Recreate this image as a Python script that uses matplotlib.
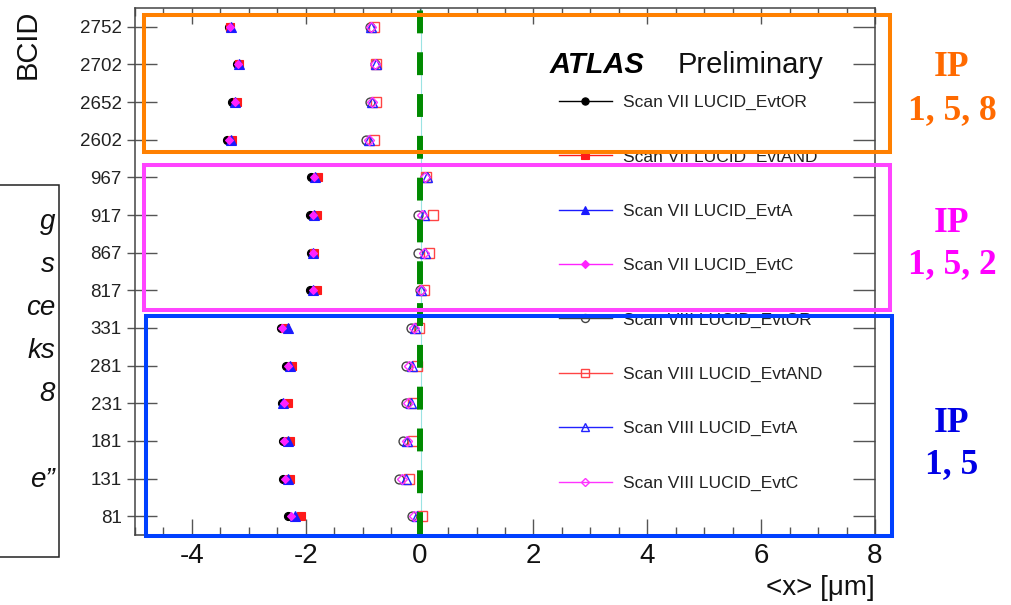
import matplotlib
matplotlib.use("Agg")
import matplotlib.pyplot as plt
from matplotlib.lines import Line2D
from matplotlib.patches import Rectangle
from matplotlib.ticker import MultipleLocator, FixedLocator
import numpy as np

plt.rcParams['font.family'] = ['Liberation Sans', 'DejaVu Sans']
plt.rcParams['axes.unicode_minus'] = False

# Bunch crossing IDs, bottom to top
bcid = ['81', '131', '181', '231', '281', '331',
        '817', '867', '917', '967',
        '2602', '2652', '2702', '2752']

# Mean x position [um], Scan VII
vii_or  = [-2.31, -2.40, -2.40, -2.41, -2.35, -2.44, -1.92, -1.91, -1.92, -1.90, -3.38, -3.30, -3.20, -3.34]
vii_and = [-2.09, -2.28, -2.28, -2.32, -2.25, -2.36, -1.81, -1.85, -1.81, -1.78, -3.29, -3.21, -3.18, -3.33]
vii_a   = [-2.19, -2.32, -2.32, -2.40, -2.28, -2.32, -1.87, -1.88, -1.86, -1.84, -3.31, -3.24, -3.17, -3.31]
vii_c   = [-2.26, -2.36, -2.38, -2.38, -2.32, -2.42, -1.87, -1.88, -1.87, -1.85, -3.34, -3.25, -3.19, -3.33]

# Mean x position [um], Scan VIII
viii_or  = [-0.14, -0.36, -0.30, -0.24, -0.24, -0.15, 0.01, -0.02, -0.02, 0.09, -0.94, -0.87, -0.79, -0.88]
viii_and = [0.04, -0.19, -0.11, -0.11, -0.05, -0.01, 0.07, 0.16, 0.23, 0.12, -0.81, -0.77, -0.76, -0.80]
viii_a   = [-0.05, -0.24, -0.22, -0.16, -0.14, -0.08, 0.03, 0.09, 0.07, 0.13, -0.89, -0.84, -0.77, -0.86]
viii_c   = [-0.09, -0.31, -0.22, -0.20, -0.19, -0.10, 0.03, 0.07, 0.05, 0.10, -0.89, -0.84, -0.78, -0.86]

labels = ['Scan VII LUCID_EvtOR', 'Scan VII LUCID_EvtAND', 'Scan VII LUCID_EvtA', 'Scan VII LUCID_EvtC',
          'Scan VIII LUCID_EvtOR', 'Scan VIII LUCID_EvtAND', 'Scan VIII LUCID_EvtA', 'Scan VIII LUCID_EvtC']

# IP groups: (first row, last row, caption, box colour, caption colour)
groups = [(10, 13, 'IP\n1, 5, 8', '#FF8000', '#FF6A00'),
          (6, 9, 'IP\n1, 5, 2', '#FF44FF', '#FF00FF'),
          (0, 5, 'IP\n1, 5', '#0040FF', '#0000E6')]

W, H = 1012, 605
fig = plt.figure(figsize=(W / 100, H / 100), dpi=100)
ax = fig.add_axes([135 / W, 1 - 535 / H, 740 / W, 527 / H])

y = np.arange(len(bcid))

styles = [
    dict(marker='o', color='black', mfc='black', ms=5.8),
    dict(marker='s', color='#FF1A1A', mfc='#FF1A1A', ms=6.0),
    dict(marker='^', color='#1A1AFF', mfc='#1A1AFF', ms=6.5),
    dict(marker='D', color='#FF22FF', mfc='#FF22FF', ms=4.2),
    dict(marker='o', color='#444444', mfc='none', ms=6.4, mew=1.0),
    dict(marker='s', color='#FF4444', mfc='none', ms=6.5, mew=1.0),
    dict(marker='^', color='#2222FF', mfc='none', ms=7.0, mew=1.0),
    dict(marker='D', color='#FF33FF', mfc='none', ms=5.0, mew=1.0),
]
series = [vii_or, vii_and, vii_a, vii_c, viii_or, viii_and, viii_a, viii_c]

ax.axvline(0.02, color='#9BE3E3', lw=0.8, zorder=1)

handles = []
for vals, st in zip(series, styles):
    ax.plot(vals, y, ls='none', marker=st['marker'], mfc=st['mfc'], mec=st['color'],
            ms=st['ms'], mew=st.get('mew', 0.8), zorder=3)
    handles.append(Line2D([], [], color=st['color'], lw=1.0, marker=st['marker'],
                          mfc=st['mfc'], mec=st['color'], ms=st['ms'] * 0.9,
                          mew=st.get('mew', 0.8)))

ax.plot([0, 0], [-0.5, 13.5], color='#008A00', lw=4.3, dashes=(3.83, 3.17), zorder=4,
        solid_capstyle='butt', dash_capstyle='butt')

ax.set_xlim(-5.0, 8.0)
ax.set_ylim(-0.5, len(bcid) - 0.5)

ax.xaxis.set_major_locator(MultipleLocator(2))
ax.xaxis.set_minor_locator(MultipleLocator(0.5))
ax.tick_params(axis='x', which='major', direction='in', length=11.5, width=1.0,
               color='#555555', top=True, labelsize=20, pad=6, labelcolor='#111111')
ax.tick_params(axis='x', which='minor', direction='in', length=5.8, width=1.0,
               color='#555555', top=True)

ax.set_yticks(y)
ax.set_yticklabels(bcid)
ax.yaxis.set_minor_locator(FixedLocator(y))
ax.yaxis.remove_overlapping_locs = False
ax.tick_params(axis='y', which='major', direction='in', length=15.8, width=1.0,
               color='#555555', right=True, labelsize=13.5, pad=9.5, labelcolor='#222222')
ax.tick_params(axis='y', which='minor', direction='out', length=5.8, width=1.0,
               color='#555555', right=False)

for s in ax.spines.values():
    s.set_color('#444444')
    s.set_linewidth(1.1)

ax.set_xlabel('<x> [\u03bcm]', loc='right', fontsize=20, labelpad=4, color='#111111')
fig.text(28 / W, 1 - 44 / H, 'BCID', rotation=90, ha='center', va='center',
         fontsize=21, color='#111111')

ax.text(0.5608, 0.8776, 'ATLAS', transform=ax.transAxes, fontsize=21,
        fontweight='bold', fontstyle='italic', va='baseline', ha='left')
ax.text(0.7338, 0.8776, 'Preliminary', transform=ax.transAxes, fontsize=21,
        va='baseline', ha='left', color='#111111')

ax.legend(handles, labels, loc='upper left', bbox_to_anchor=(0.573, 0.835),
          frameon=False, fontsize=12.5, handlelength=3.05, handletextpad=0.63,
          labelspacing=2.25, borderpad=0, borderaxespad=0, labelcolor='#222222')

# IP group boxes and captions
box_x0, box_x1 = -4.84, 8.26
pads = {10: (0.32, 0.31), 6: (0.51, 0.34), 0: (0.53, 0.33)}
caption_shift = {10: 0.16, 6: 0.27, 0: 0.58}
caption_spacing = {10: 1.42, 6: 1.35, 0: 1.35}
for lo, hi, txt, bc, tc in groups:
    plo, phi = pads[lo]
    x0 = box_x0 + (0.03 if lo == 0 else 0)
    x1 = box_x1 + (0.03 if lo == 0 else 0)
    ax.add_patch(Rectangle((x0, lo - plo), x1 - x0, (hi + phi) - (lo - plo),
                           fill=False, ec=bc, lw=2.9, clip_on=False, zorder=6))
    yc = ax.transData.transform((0, (lo + hi) / 2 - caption_shift[lo]))[1]
    fig.text(952 / W, yc / fig.dpi / fig.get_figheight(), txt, ha='center', va='center',
             color=tc, fontsize=25.5, fontweight='bold', family='Liberation Serif',
             linespacing=caption_spacing[lo])

# Side note box, mostly outside the frame
fig.patches.append(Rectangle((-200 / W, 1 - 557 / H), 259 / W, 372 / H, fill=False,
                             ec='#222222', lw=1.1, transform=fig.transFigure, figure=fig))
note = ['g', 's', 'ce', 'ks', '8', '', 'e\u201d']
for i, frag in enumerate(note):
    fig.text(55 / W, 1 - (222 + 43 * i) / H, frag, ha='right', va='center',
             fontsize=20, fontstyle='italic', color='#111111')

fig.savefig('out.png', dpi=100)
